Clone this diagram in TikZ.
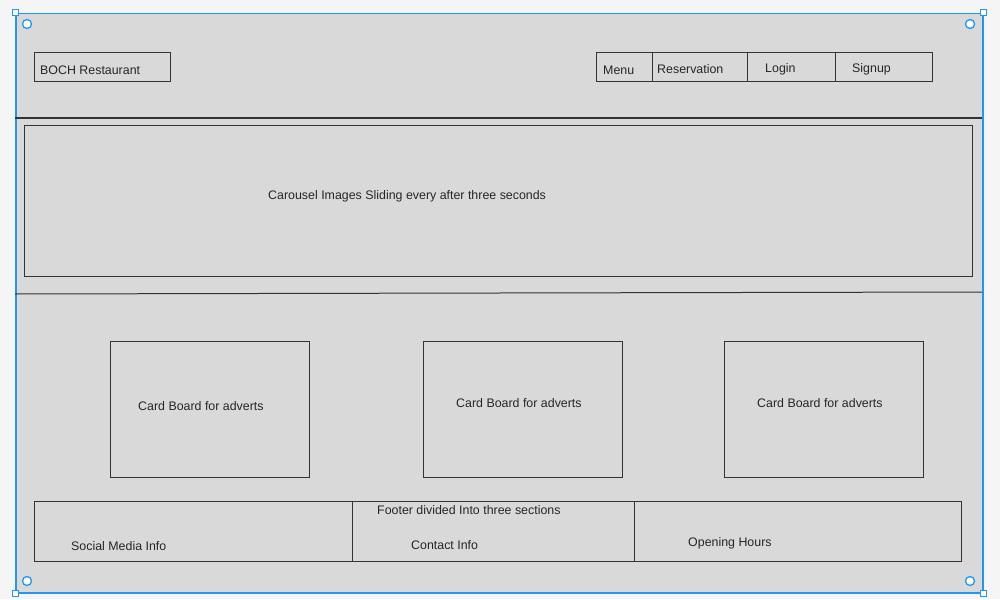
\documentclass[tikz,border=0pt]{standalone}
\usepackage{fontspec}
\setmainfont{Liberation Sans}
\definecolor{pagebg}{HTML}{F5F5F5}
\definecolor{framebg}{HTML}{D9D9D9}
\definecolor{selblue}{HTML}{2196F3}
\definecolor{ink}{HTML}{333333}
\tikzset{
  wbox/.style={draw=ink, line width=1pt, rectangle, inner sep=0pt, anchor=north west},
  lbl/.style={inner sep=0pt, anchor=west, yshift=-1pt, text=black!85, font=\fontsize{12.4}{14}\selectfont},
  handle/.style={draw=selblue, fill=white, line width=1pt, rectangle, minimum size=6pt, inner sep=0pt},
  ring/.style={draw=selblue, fill=white, line width=1.3pt, circle, minimum size=9pt, inner sep=0pt},
  rule/.style={draw=ink, line width=1pt}
}
\begin{document}
\begin{tikzpicture}[x=1pt,y=-1pt]
\useasboundingbox (0,0) rectangle (1000,599);
\fill[pagebg] (0,0) rectangle (1000,599);
% frame
\node[draw=selblue, fill=framebg, line width=1.5pt, rectangle, inner sep=0pt, anchor=north west, minimum width=967pt, minimum height=579pt] (frame) at (15,13) {};
% header
\node[wbox, minimum width=136pt, minimum height=29pt] (brand) at (34,52) {};
\node[lbl] (brandt) at (40,69) {BOCH Restaurant};
\node[wbox, minimum width=336pt, minimum height=29pt] (nav) at (596,52) {};
\coordinate (d1t) at (652,52); \coordinate (d1b) at (652,81);
\coordinate (d2t) at (747,52); \coordinate (d2b) at (747,81);
\coordinate (d3t) at (835,52); \coordinate (d3b) at (835,81);
\draw[rule] (d1t) -- (d1b);
\draw[rule] (d2t) -- (d2b);
\draw[rule] (d3t) -- (d3b);
\node[lbl] (menu) at (603,69.5) {Menu};
\node[lbl] (resv) at (657,68.5) {Reservation};
\node[lbl] (login) at (765,68) {Login};
\node[lbl] (signup) at (852,68) {Signup};
% rules
\coordinate (r1l) at (15,118); \coordinate (r1r) at (982,118);
\draw[rule] (r1l) -- (r1r);
\coordinate (r2l) at (15,294); \coordinate (r2r) at (982,292);
\draw[rule] (r2l) -- (r2r);
% carousel
\node[wbox, minimum width=948pt, minimum height=151pt] (carousel) at (24,125) {};
\node[lbl] (carouselt) at (268,195) {Carousel Images Sliding every after three seconds};
% cards
\node[wbox, minimum width=199pt, minimum height=136pt] (card1) at (110,341) {};
\node[wbox, minimum width=199pt, minimum height=136pt] (card2) at (423,341) {};
\node[wbox, minimum width=199pt, minimum height=136pt] (card3) at (724,341) {};
\node[lbl] (card1t) at (138,405) {Card Board for adverts};
\node[lbl] (card2t) at (456,402.5) {Card Board for adverts};
\node[lbl] (card3t) at (757,402.5) {Card Board for adverts};
% footer
\node[wbox, minimum width=927pt, minimum height=60pt] (footer) at (34,501) {};
\coordinate (f1t) at (352,501); \coordinate (f1b) at (352,561);
\coordinate (f2t) at (634,501); \coordinate (f2b) at (634,561);
\draw[rule] (f1t) -- (f1b);
\draw[rule] (f2t) -- (f2b);
\node[lbl] (footert) at (377,509.5) {Footer divided Into three sections};
\node[lbl] (social) at (71,545.5) {Social Media Info};
\node[lbl] (contact) at (411,544.5) {Contact Info};
\node[lbl] (hours) at (688,542.5) {Opening Hours};
% selection handles
\node[handle] (h1) at (frame.north west) {};
\node[handle] (h2) at (frame.north east) {};
\node[handle] (h3) at (frame.south west) {};
\node[handle] (h4) at (frame.south east) {};
\node[ring] (c1) at (27,24) {};
\node[ring] (c2) at (970,24) {};
\node[ring] (c3) at (27,581) {};
\node[ring] (c4) at (970,581) {};
\end{tikzpicture}
\end{document}
